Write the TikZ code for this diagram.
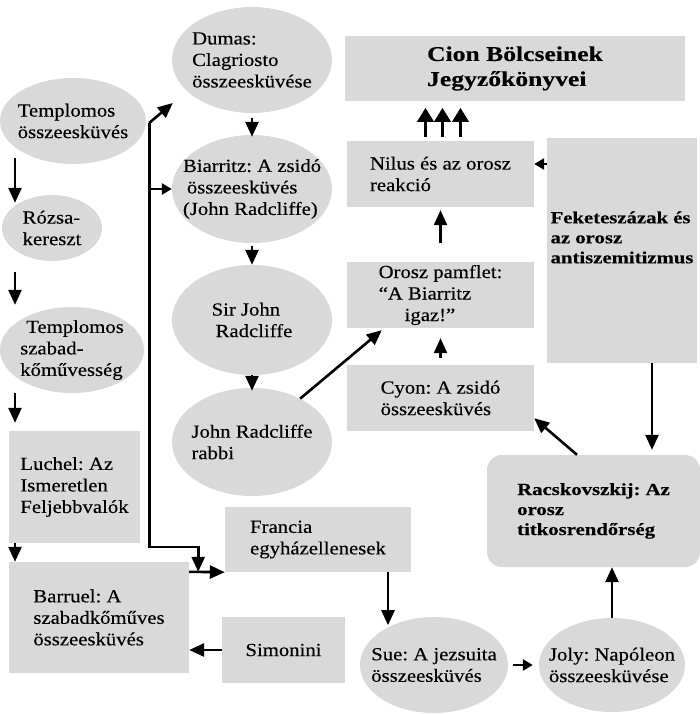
\documentclass[tikz,border=0pt]{standalone}
\usepackage{fontspec}
\setmainfont{Liberation Serif}[FakeStretch=1.12,FakeBold=0.3,BoldFeatures={FakeStretch=1.22,FakeBold=0.3}]
\frenchspacing
\usetikzlibrary{arrows.meta,shapes.geometric}
\definecolor{boxgray}{RGB}{217,217,217}
\tikzset{
    oval/.style={ellipse,fill=boxgray,inner xsep=-40pt,inner ysep=-25pt,align=left,font=\fontsize{18.5}{21.5}\selectfont},
    box/.style={rectangle,fill=boxgray,inner sep=0pt,align=left,font=\fontsize{18.5}{21.5}\selectfont},
    boldbox/.style={box,font=\fontsize{17}{20}\selectfont\bfseries},
    arr/.style={line width=2.6pt,-{Triangle[length=15pt,width=13pt]}},
    arrsmall/.style={line width=2.6pt,-{Triangle[length=10pt,width=11pt]}},
    arrbig/.style={line width=3.5pt,-{Triangle[length=14pt,width=16pt]}},
}

\begin{document}
\begin{tikzpicture}[x=1pt,y=-1pt]
    \useasboundingbox (0,0) rectangle (700,714);

    \node[oval,minimum width=146pt,minimum height=86pt] (templ) at (73,121) {Templomos\\összeesküvés};
    \node[oval,minimum width=100pt,minimum height=66pt] (rozsa) at (52,228) {Rózsa-\\kereszt};
    \node[oval,minimum width=144pt,minimum height=86pt] (tszab) at (72,350) {\hspace*{6pt}Templomos\\szabad-\\kőművesség};
    \node[box,minimum width=131pt,minimum height=112pt] (luchel) at (74.5,487) {Luchel: Az\\Ismeretlen\\Feljebbvalók};
    \node[box,minimum width=180pt,minimum height=111pt] (barruel) at (99,617.5) {Barruel: A\\szabadkőműves\\összeesküvés};

    \node[oval,minimum width=160pt,minimum height=106pt] (dumas) at (252,60) {Dumas:\\Clagriosto\\összeesküvése};
    \node[oval,minimum width=160pt,minimum height=108pt] (biarr) at (252,189) {Biarritz: A zsidó\\\hspace*{4pt}összeesküvés\\(John Radcliffe)};
    \node[oval,minimum width=160pt,minimum height=110pt] (sirjohn) at (252,320) {Sir John\\\hspace*{4pt}Radcliffe};
    \node[oval,minimum width=160pt,minimum height=108pt] (rabbi) at (252,442) {John Radcliffe\\rabbi};
    \node[box,minimum width=186pt,minimum height=65pt] (francia) at (318,539.5) {Francia\\egyházellenesek};
    \node[box,minimum width=123pt,minimum height=66pt] (simonini) at (283.5,650) {Simonini};

    \node[box,minimum width=340pt,minimum height=65pt,font=\fontsize{21}{25}\selectfont\bfseries] (cion) at (515,68.5) {Cion Bölcseinek\\Jegyzőkönyvei};
    \node[box,minimum width=187pt,minimum height=66pt] (nilus) at (440.5,174) {Nilus és az orosz\\reakció};
    \node[box,minimum width=187pt,minimum height=66pt] (pamflet) at (440.5,295) {Orosz pamflet:\\“A Biarritz\\\hspace*{26pt}igaz!”};
    \node[box,minimum width=187pt,minimum height=66pt] (cyon) at (440.5,398) {Cyon: A zsidó\\összeesküvés};
    \node[box,minimum width=150pt,minimum height=225pt] (fekete) at (622,250.5) {};
    \node[boldbox] (feketetxt) at ([yshift=13pt]fekete.center) {Feketeszázak és\\az orosz\\antiszemitizmus};
    \node[boldbox,minimum width=213pt,minimum height=112pt,rounded corners=15pt] (racsk) at (593.5,511) {Racskovszkij: Az\\orosz\\titkosrendőrség};
    \node[oval,minimum width=148pt,minimum height=96pt] (sue) at (434,665) {Sue: A jezsuita\\összeesküvés};
    \node[oval,minimum width=146pt,minimum height=94pt] (joly) at (612,665) {Joly: Napóleon\\összeesküvése};

    \coordinate (lcol) at (15,0);
    \coordinate (split) at ([xshift=3pt,yshift=-2pt]templ.east);
    \coordinate (join) at ([xshift=9pt,yshift=-10pt]barruel.north east);

    \draw[arr] ([yshift=6pt]templ.south -| lcol) -- ([yshift=-8pt]rozsa.north -| lcol);
    \draw[arr] ([yshift=-11pt]rozsa.south -| lcol) -- ([yshift=2pt]tszab.north -| lcol);
    \draw[arr] (tszab.south -| lcol) -- ([yshift=8pt]luchel.north -| lcol);
    \draw[arr] (luchel.south -| lcol) -- (barruel.north -| lcol);

    \draw[arr] ([yshift=-5pt]dumas.south) -- ([yshift=-2pt]biarr.north);
    \draw[arr] ([yshift=-3pt]biarr.south) -- (sirjohn.north);
    \draw[arr] (sirjohn.south) -- ([yshift=-3pt]rabbi.north);

    \draw[arr] (split) -- ([xshift=1pt,yshift=-43pt]dumas.west);
    \draw[arr] (split) |- ([yshift=25pt]join) -- (join);
    \draw[arrsmall] (split |- biarr.west) -- (biarr.west);
    \draw[arr] ([yshift=-10pt]barruel.north east) -- (francia.south west);
    \draw[arr] (simonini.west) -- (simonini.west -| barruel.east);
    \draw[arr] ([xshift=70pt]francia.south) -- ++(0,53);
    \draw[arrsmall] ([xshift=5pt]sue.east) -- ([xshift=-6pt]joly.west);
    \draw[arr] (joly.north) -- (joly.north |- racsk.south);
    \draw[arr] ([xshift=-16.5pt]racsk.north) -- ([yshift=13pt]cyon.south east);
    \draw[arr] ([xshift=30pt]fekete.south) -- ([xshift=30pt,yshift=5pt]fekete.south |- racsk.north);
    \draw[arrsmall] ([yshift=10pt]nilus.east -| fekete.west) -- ([yshift=10pt]nilus.east);
    \draw[arr] ([yshift=7pt]cyon.north) -- ([yshift=-10pt]pamflet.south);
    \draw[arr] ([yshift=19pt]pamflet.north) -- ([yshift=-3pt]nilus.south);
    \draw[arr] (rabbi.42) -- ([xshift=35pt,yshift=-2pt]pamflet.south west);
    \foreach \dx in {-15,2,20}
        \draw[arrbig] ([xshift=\dx pt,yshift=4pt]nilus.north) -- ++(0,-29);
\end{tikzpicture}
\end{document}
